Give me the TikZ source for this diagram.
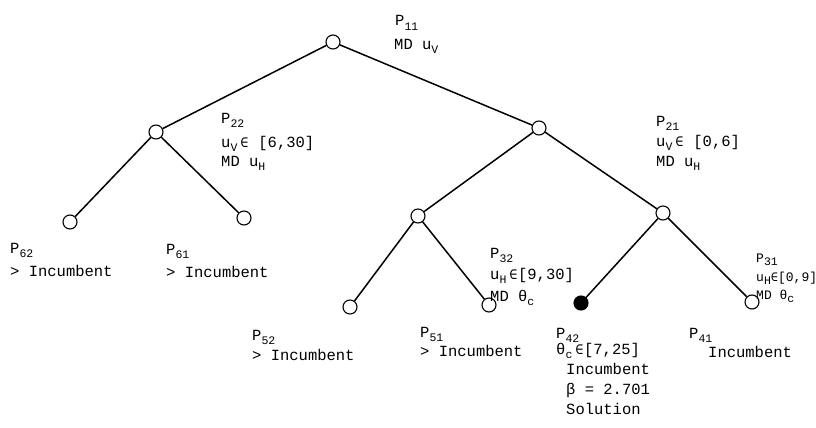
\documentclass[tikz,border=0pt]{standalone}
\usepackage{fontspec}
\setmonofont{Liberation Mono}
\newfontfamily\symf{DejaVu Sans Mono}
% lowered small index, as typed on the typewriter
\newcommand{\lowr}[1]{\raisebox{-0.55ex}{\fontsize{11.5}{11.5}\selectfont #1}}
% single-letter index occupying a full typewriter cell
\newcommand{\lowc}[1]{\makebox[9.3pt][l]{\lowr{#1}}}
\newcommand{\elem}{\makebox[9.3pt]{\symf\fontsize{13.5}{13.5}\selectfont ∈}}
\newcommand{\elemn}{{\symf\fontsize{12}{12}\selectfont ∈}}
\begin{document}
\begin{tikzpicture}[x=1pt,y=-1pt,
  vtx/.style={circle,draw,line width=1.1pt,minimum size=14pt,inner sep=0pt},
  soln/.style={vtx,fill=black},
  branch/.style={line width=1.5pt},
  txt/.style={anchor=base west,inner sep=0pt,font=\ttfamily\fontsize{15.5}{17}\selectfont},
  txtn/.style={txt,font=\ttfamily\fontsize{13}{15}\selectfont}]
\useasboundingbox (0,0) rectangle (816,428);

% tree vertices
\node[vtx] (p11) at (333,42) {};
\node[vtx] (p22) at (156,132) {};
\node[vtx] (p21) at (539,128) {};
\node[vtx] (p62) at (70,222) {};
\node[vtx] (p61) at (244,218) {};
\node[vtx] (p32) at (418,216) {};
\node[vtx] (p31) at (663,213) {};
\node[vtx] (p52) at (350,307) {};
\node[vtx] (p51) at (489,305) {};
\node[soln] (p42) at (581,303) {};
\node[vtx] (p41) at (752,302) {};

% branches
\draw[branch] (p11) -- (p22);
\draw[branch] (p11) -- (p21);
\draw[branch] (p22) -- (p62);
\draw[branch] (p22) -- (p61);
\draw[branch] (p21) -- (p32);
\draw[branch] (p21) -- (p31);
\draw[branch] (p32) -- (p52);
\draw[branch] (p32) -- (p51);
\draw[branch] (p31) -- (p42);
\draw[branch] (p31) -- (p41);

% subproblem annotations
\node[txt] (t11a) at (395,26) {P\lowr{11}};
\node[txt] (t11b) at (394,49) {MD u\lowr{V}};

\node[txt] (t22a) at (221,123) {P\lowr{22}};
\node[txt] (t22b) at (221,147) {u\lowc{V}\elem\ [6,30]};
\node[txt] (t22c) at (221,166) {MD u\lowr{H}};

\node[txt] (t21a) at (656,126) {P\lowr{21}};
\node[txt] (t21b) at (656,146) {u\lowc{V}\elem\ [0,6]};
\node[txt] (t21c) at (656,166) {MD u\lowr{H}};

\node[txt] (t62a) at (10,253) {P\lowr{62}};
\node[txt] (t62b) at (10,276) {> Incumbent};

\node[txt] (t61a) at (166,254) {P\lowr{61}};
\node[txt] (t61b) at (166,277) {> Incumbent};

\node[txt] (t32a) at (490,258) {P\lowr{32}};
\node[txt] (t32b) at (490,279) {u\lowc{H}\elem[9,30]};
\node[txt] (t32c) at (490,301) {MD θ\lowr{c}};

\node[txtn] (t31a) at (756,262) {P\lowr{31}};
\node[txtn] (t31b) at (756,281) {u\lowr{H}\elemn[0,9]};
\node[txtn] (t31c) at (756,299) {MD θ\lowr{c}};

\node[txt] (t52a) at (252,340) {P\lowr{52}};
\node[txt] (t52b) at (252,360) {> Incumbent};

\node[txt] (t51a) at (420,337) {P\lowr{51}};
\node[txt] (t51b) at (420,356) {> Incumbent};

\node[txt] (t42a) at (556,338) {P\lowr{42}};
\node[txt] (t42b) at (556,354) {θ\lowc{c}\elem[7,25]};
\node[txt] (t42c) at (566,374) {Incumbent};
\node[txt] (t42d) at (566,394) {β = 2.701};
\node[txt] (t42e) at (566,414) {Solution};

\node[txt] (t41a) at (689,338) {P\lowr{41}};
\node[txt] (t41b) at (708,357) {Incumbent};
\end{tikzpicture}
\end{document}
